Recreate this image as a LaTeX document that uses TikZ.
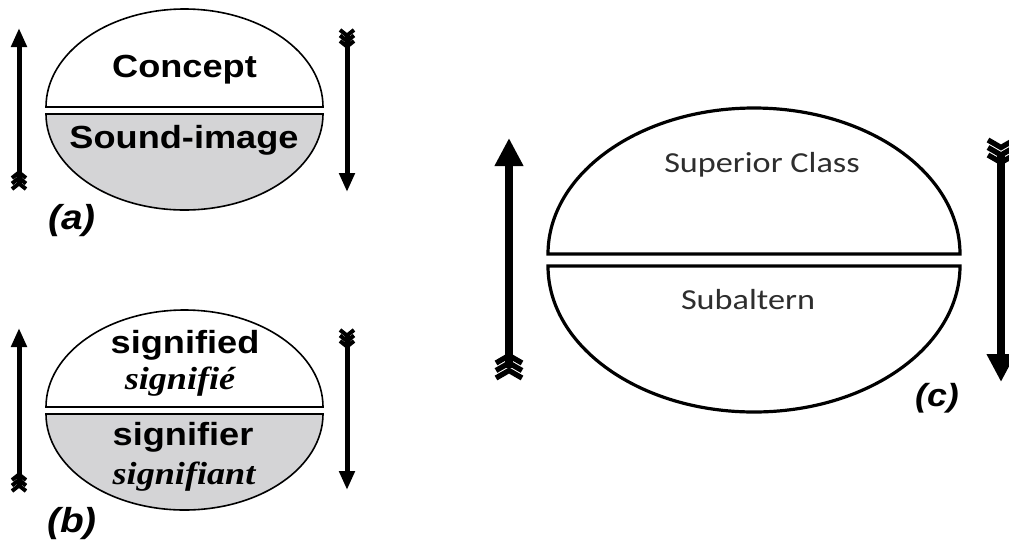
\documentclass[tikz,border=0pt]{standalone}
\usepackage{fontspec}
\setsansfont{Liberation Sans}
\setmainfont{Liberation Serif}
\newfontfamily\carl{Carlito}
\usetikzlibrary{arrows.meta}
\definecolor{halfgray}{HTML}{D4D4D6}
\definecolor{txtc}{HTML}{2E2E2E}
\newcommand\featherup[5]{% x, ybottom(neg), width, step, lw
  \foreach \k in {0,1,2}{\draw[line width=#5, line cap=butt, line join=miter] ({#1-#3/2},{#2+\k*#4}) -- (#1,{#2+\k*#4+#4}) -- ({#1+#3/2},{#2+\k*#4});}}
\newcommand\featherdown[5]{% x, ytop(neg), width, step, lw
  \foreach \k in {0,1,2}{\draw[line width=#5, line cap=butt, line join=miter] ({#1-#3/2},{#2-\k*#4}) -- (#1,{#2-\k*#4-#4}) -- ({#1+#3/2},{#2-\k*#4});}}
\tikzset{
  x=0.75pt, y=0.75pt,
  thinhalf/.style={draw=black, line width=1.6pt*0.75},
  thickhalf/.style={draw=black, line width=3.2pt*0.75},
  smallarr/.style={line width=5pt*0.75, -{Triangle[length=19pt*0.75, width=15pt*0.75]}},
  bigarr/.style={line width=8pt*0.75, -{Triangle[length=28pt*0.75, width=27pt*0.75]}},
  bigtxt/.style={font=\sffamily\bfseries\fontsize{24}{28}\selectfont, inner sep=0pt},
  ittxt/.style={font=\rmfamily\bfseries\itshape\fontsize{24}{28}\selectfont, inner sep=0pt},
  lbl/.style={font=\sffamily\bfseries\itshape\fontsize{26}{28}\selectfont, inner sep=0pt},
  ctxt/.style={font=\carl\fontsize{21.75}{26}\selectfont, text=txtc, inner sep=0pt},
}
\begin{document}
\begin{tikzpicture}
\useasboundingbox (0,0) rectangle (1009,-540);
\begin{scope}
\clip (0,0) rectangle (1009,-540);
% ---------- panel (a)
\draw[thinhalf, fill=white] (46,-107) arc[start angle=180, end angle=0, x radius=138.5, y radius=98] -- cycle;
\draw[thinhalf, fill=halfgray] (46,-114) arc[start angle=180, end angle=360, x radius=138.5, y radius=96] -- cycle;
\node[bigtxt] (concept) at (184.5,-70) {\scalebox{1.13}[1]{Concept}};
\node[bigtxt] (sound) at (184,-140) {\scalebox{1.13}[1]{Sound-image}};
\node[lbl] (la) at (72,-221) {\scalebox{1.12}[1]{(a)}};
\coordinate (aL0) at (19,-184);
\coordinate (aL1) at (19,-28);
\draw[smallarr] (aL0) -- (aL1);
\featherup{19}{-189}{14}{5.5}{3pt}
\coordinate (aR0) at (347,-36);
\coordinate (aR1) at (347,-192);
\draw[smallarr] (aR0) -- (aR1);
\featherdown{347}{-30}{14}{5.5}{3pt}
% ---------- panel (b)
\draw[thinhalf, fill=white] (46,-407) arc[start angle=180, end angle=0, x radius=138.5, y radius=97] -- cycle;
\draw[thinhalf, fill=halfgray] (46,-414) arc[start angle=180, end angle=360, x radius=138.5, y radius=96] -- cycle;
\node[bigtxt] (sd) at (185,-345) {\scalebox{1.13}[1]{signified}};
\node[ittxt] (sdf) at (180,-382) {\scalebox{1.13}[1]{signifié}};
\node[bigtxt] (sr) at (183,-437) {\scalebox{1.13}[1]{signifier}};
\node[ittxt] (srf) at (184,-477) {\scalebox{1.13}[1]{signifiant}};
\node[lbl] (lb) at (72,-524) {\scalebox{1.12}[1]{(b)}};
\coordinate (bL0) at (19,-486);
\coordinate (bL1) at (19,-328);
\draw[smallarr] (bL0) -- (bL1);
\featherup{19}{-491}{14}{5.5}{3pt}
\coordinate (bR0) at (347,-336);
\coordinate (bR1) at (347,-490);
\draw[smallarr] (bR0) -- (bR1);
\featherdown{347}{-330}{14}{5.5}{3pt}
% ---------- panel (c)
\draw[thickhalf, fill=white] (548,-254) arc[start angle=180, end angle=0, x radius=206, y radius=146] -- cycle;
\draw[thickhalf, fill=white] (548,-266) arc[start angle=180, end angle=360, x radius=206, y radius=146] -- cycle;
\node[ctxt] (sup) at (762,-165) {\scalebox{1.18}[1]{Superior Class}};
\node[ctxt] (sub) at (748,-300) {\scalebox{1.18}[1]{Subaltern}};
\node[lbl, font=\sffamily\bfseries\itshape\fontsize{24}{26}\selectfont] (lc) at (937,-398) {\scalebox{1.12}[1]{(c)}};
\coordinate (cL0) at (509,-368);
\coordinate (cL1) at (509,-138);
\draw[bigarr] (cL0) -- (cL1);
\featherup{509}{-378}{26}{7.5}{4pt}
\coordinate (cR0) at (1001,-152);
\coordinate (cR1) at (1001,-382);
\draw[bigarr] (cR0) -- (cR1);
\featherdown{1001}{-140}{26}{7.5}{4pt}
\end{scope}
\end{tikzpicture}
\end{document}
